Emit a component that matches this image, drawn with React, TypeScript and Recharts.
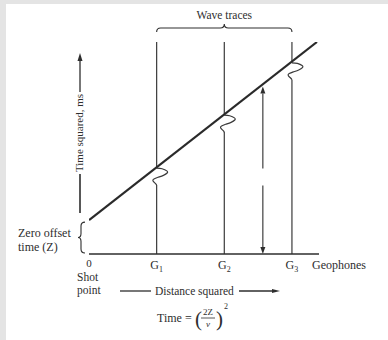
import { Customized, Line, LineChart, ReferenceLine, XAxis, YAxis } from "recharts";

const FONT = '"Liberation Serif", "Times New Roman", serif';
const INK = "#2e2e2e";

// geophone positions along the spread (distance squared units)
const geophoneX = [0, 1, 2, 3];
const geophoneLabels = ["0", "G1", "G2", "G3"];
// time squared where the reflection reaches each geophone
const arrivals = [4.05, 6.55, 9.02];
const traceTop = 10;

// reflection line: zero offset time at x = 0, up to the top of the traces
const reflX = [0, 3.37];
const reflY = [1.6, 10];

// wavelet drawn on each trace, offsets from the arrival point
const wiggleDx = [0, 0.08, 0.15, 0.155, 0.1, 0.02, -0.04, -0.055, -0.02, 0];
const wiggleDy = [0, -0.03, -0.13, -0.23, -0.34, -0.43, -0.51, -0.6, -0.72, -0.8];

const arrowX = 2.57;
const arrowTop = 7.9;

const reflection = reflX.map((x, i) => ({ x, y: reflY[i] }));

function GeoTick({ x, y, payload }: any) {
  const label = geophoneLabels[geophoneX.indexOf(payload.value)] ?? "";
  const main = label[0];
  const sub = label.slice(1);
  return (
    <text x={x} y={y + (sub ? 15 : 13)} textAnchor="middle" fontFamily={FONT} fontSize={sub ? 12 : 11} fill={INK}>
      {main}
      {sub && (
        <tspan fontSize={8} dy={3}>
          {sub}
        </tspan>
      )}
    </text>
  );
}

function TopBrace({ x1, x2, y1 }: any) {
  const tip = y1 - 10;
  const body = y1 - 14;
  const cusp = y1 - 18;
  const cx = (x1 + x2) / 2;
  const r = 4;
  const d = `M${x1},${tip} Q${x1},${body} ${x1 + r},${body} L${cx - r},${body} Q${cx},${body} ${cx},${cusp} Q${cx},${body} ${cx + r},${body} L${x2 - r},${body} Q${x2},${body} ${x2},${tip}`;
  return (
    <g>
      <path d={d} fill="none" stroke={INK} strokeWidth={1.1} />
      <text x={cx} y={y1 - 23} textAnchor="middle" fontFamily={FONT} fontSize={11.5} fill={INK}>
        Wave traces
      </text>
    </g>
  );
}

function LeftBrace({ x1, y1, y2 }: any) {
  const arm = x1 - 4;
  const point = x1 - 11;
  const top = Math.min(y1, y2) + 2;
  const bot = Math.max(y1, y2) - 1;
  const cy = (top + bot) / 2;
  const r = 4;
  const d = `M${arm},${top} Q${arm - r},${top} ${arm - r},${top + r} L${arm - r},${cy - r} Q${arm - r},${cy} ${point},${cy} Q${arm - r},${cy} ${arm - r},${cy + r} L${arm - r},${bot - r} Q${arm - r},${bot} ${arm},${bot}`;
  return <path d={d} fill="none" stroke={INK} strokeWidth={1.1} />;
}

function DoubleArrow({ x1, y1, y2 }: any) {
  const top = Math.min(y1, y2);
  const bot = Math.max(y1, y2);
  const gapMid = top + 0.54 * (bot - top);
  const h = 7;
  const w = 2.5;
  return (
    <g stroke={INK} strokeWidth={1.1} fill={INK}>
      <line x1={x1} y1={top + h} x2={x1} y2={gapMid - 8.5} />
      <line x1={x1} y1={gapMid + 8.5} x2={x1} y2={bot - h} />
      <path d={`M${x1},${top} L${x1 - w},${top + h} L${x1 + w},${top + h} Z`} stroke="none" />
      <path d={`M${x1},${bot} L${x1 - w},${bot - h} L${x1 + w},${bot - h} Z`} stroke="none" />
    </g>
  );
}

function Annotations() {
  const t = { fontFamily: FONT, fontSize: 12, fill: INK };
  return (
    <g>
      {/* vertical axis title with its arrow */}
      <line x1={80} y1={174} x2={80} y2={213} stroke={INK} strokeWidth={1.6} />
      <text transform="translate(83,133) rotate(-90)" textAnchor="middle" {...t} fontSize={11}>
        Time squared, ms
      </text>
      <line x1={80} y1={92} x2={80} y2={60} stroke={INK} strokeWidth={1.3} />
      <path d="M80,53 L77.5,61 L82.5,61 Z" fill={INK} />

      <text x={18} y={237} {...t}>Zero offset</text>
      <text x={18} y={251} {...t}>time (Z)</text>

      <text x={312} y={269} {...t}>Geophones</text>
      <text x={77} y={281} {...t} fontSize={11.5}>Shot</text>
      <text x={77} y={294} {...t} fontSize={11.5}>point</text>

      <line x1={120} y1={291} x2={151} y2={291} stroke={INK} strokeWidth={1.3} />
      <text x={155} y={295} {...t} fontSize={11.5}>Distance squared</text>
      <line x1={239} y1={291} x2={273} y2={291} stroke={INK} strokeWidth={1.3} />
      <path d="M280,291 L272,289 L272,293 Z" fill={INK} />

      {/* formula */}
      <text x={157} y={322} {...t}>Time</text>
      <text x={185} y={322} {...t}>=</text>
      <text x={195} y={326} {...t} fontSize={21} fontWeight={300}>(</text>
      <text x={208} y={315} textAnchor="middle" {...t} fontSize={9}>2Z</text>
      <line x1={201} y1={318} x2={215} y2={318} stroke={INK} strokeWidth={0.8} />
      <text x={208} y={327} textAnchor="middle" {...t} fontSize={9} fontStyle="italic">v</text>
      <text x={216} y={326} {...t} fontSize={21} fontWeight={300}>)</text>
      <text x={224} y={309} {...t} fontSize={8}>2</text>
    </g>
  );
}

export default function App() {
  return (
    <div style={{ position: "absolute", left: 0, top: 0, width: 388, height: 340, background: "#e4e4e4" }}>
      <div style={{ position: "absolute", left: 6, top: 4, right: 0, bottom: 0, background: "#ffffff" }} />
      <div style={{ position: "absolute", left: 0, top: 0 }}>
        <LineChart width={388} height={340} margin={{ top: 42, right: 69, bottom: 56, left: 89 }}>
          <XAxis
            dataKey="x"
            type="number"
            domain={[0, 3.4]}
            allowDataOverflow
            ticks={geophoneX}
            tick={<GeoTick />}
            tickLine={false}
            tickSize={0}
            tickMargin={0}
            height={30}
            axisLine={{ stroke: INK, strokeWidth: 1.5 }}
          />
          <YAxis
            type="number"
            domain={[0, 10]}
            allowDataOverflow
            width={0}
            tick={false}
            tickLine={false}
            axisLine={{ stroke: INK, strokeWidth: 1.5 }}
          />

          {geophoneX.slice(1).map((g, i) => {
            const arr = arrivals[i];
            const upper = [
              { x: g, y: traceTop },
              { x: g, y: arr },
            ];
            const wiggle = wiggleDx.map((dx, k) => ({ x: g + dx, y: arr + wiggleDy[k] }));
            const lower = [
              { x: g, y: arr + wiggleDy[wiggleDy.length - 1] },
              { x: g, y: 0 },
            ];
            return [
              <Line key={`u${i}`} data={upper} dataKey="y" type="linear" stroke="#3a3a3a" strokeWidth={1.2} dot={false} activeDot={false} isAnimationActive={false} />,
              <Line key={`w${i}`} data={wiggle} dataKey="y" type="natural" stroke="#3a3a3a" strokeWidth={1.2} dot={false} activeDot={false} isAnimationActive={false} />,
              <Line key={`l${i}`} data={lower} dataKey="y" type="linear" stroke="#3a3a3a" strokeWidth={1.2} dot={false} activeDot={false} isAnimationActive={false} />,
            ];
          })}

          <Line data={reflection} dataKey="y" type="linear" stroke="#2a2a2a" strokeWidth={2.2} dot={false} activeDot={false} isAnimationActive={false} />

          <ReferenceLine
            segment={[
              { x: geophoneX[1], y: traceTop },
              { x: geophoneX[3], y: traceTop },
            ]}
            ifOverflow="visible"
            shape={<TopBrace />}
          />
          <ReferenceLine
            segment={[
              { x: 0, y: 0 },
              { x: 0, y: reflY[0] },
            ]}
            ifOverflow="visible"
            shape={<LeftBrace />}
          />
          <ReferenceLine
            segment={[
              { x: arrowX, y: 0 },
              { x: arrowX, y: arrowTop },
            ]}
            ifOverflow="visible"
            shape={<DoubleArrow />}
          />

          <Customized component={<Annotations />} />
        </LineChart>
      </div>
    </div>
  );
}
